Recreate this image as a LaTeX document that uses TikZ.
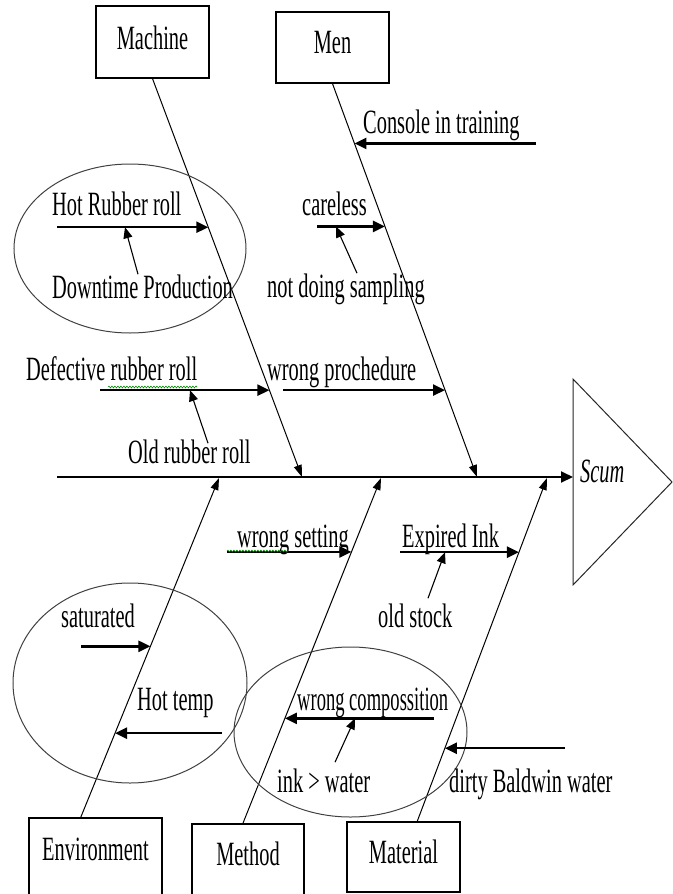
\documentclass[tikz,border=0pt]{standalone}
\usepackage{fontspec}
\newfontfamily\fishfont[FakeStretch=0.6]{Liberation Serif}
\usetikzlibrary{arrows.meta,calc,decorations.pathmorphing}
\begin{document}
\begin{tikzpicture}[x=1pt,y=-1pt,
	txt/.style={font=\fishfont\fontsize{34}{36}\selectfont,inner sep=0pt,anchor=base west},
	catbox/.style={draw,line width=1.3pt,font=\fishfont\fontsize{34}{36}\selectfont,text height=23pt},
	spine/.style={line width=2pt,-{Triangle[length=12pt,width=11pt]}},
	bone/.style={line width=1pt,-{Triangle[length=12pt,width=8pt]}},
	cause/.style={line width=2.4pt,-{Triangle[length=12pt,width=11pt]}},
	sub/.style={line width=1.1pt,-{Triangle[length=11pt,width=9pt]}},
	ring/.style={draw=black!75,line width=1pt},
	squig/.style={draw=green!55!black,line width=0.6pt,decorate,decoration={snake,amplitude=0.9pt,segment length=3pt}}]
	\useasboundingbox (0,0) rectangle (672,894);
	\node[catbox,minimum width=113pt,minimum height=72pt,text depth=9pt] (machine) at (152.5,42) {Machine};
	\node[catbox,minimum width=113pt,minimum height=71pt,text depth=12pt] (men) at (332.5,47.5) {Men};
	\node[catbox,minimum width=133pt,minimum height=78pt,text depth=17pt] (env) at (95.5,857) {Environment};
	\node[catbox,minimum width=112pt,minimum height=72pt,text depth=13pt] (method) at (248,860) {Method};
	\node[catbox,minimum width=113pt,minimum height=70pt,text depth=11pt] (material) at (403.5,857) {Material};
	\coordinate (tail) at (57,477);
	\coordinate (head) at (573,477);
	\coordinate (mtip) at (302,477);
	\coordinate (ntip) at (477,477);
	\coordinate (etip) at (219,478);
	\coordinate (dtip) at (381,478);
	\coordinate (rtip) at (547,478);
	\draw[spine] (tail) -- (head);
	\draw[line width=1pt,draw=black!85] (573,379) -- (672,482) -- (573,585) -- cycle;
	\node[txt,font=\fishfont\itshape\fontsize{34}{36}\selectfont] (scum) at (580,482) {Scum};
	\draw[bone] (machine.south) -- coordinate[pos=.373] (m1) coordinate[pos=.782] (m2) (mtip);
	\draw[bone] (men.south) -- coordinate[pos=.152] (n1) coordinate[pos=.363] (n2) coordinate[pos=.779] (n3) (ntip);
	\draw[bone] ($(env.north west)!0.39!(env.north east)$) -- coordinate[pos=.248] (e1) coordinate[pos=.504] (e2) (etip);
	\draw[bone] ($(method.north west)!0.455!(method.north east)$) -- coordinate[pos=.304] (d1) coordinate[pos=.786] (d2) (dtip);
	\draw[bone] ($(material.north west)!0.62!(material.north east)$) -- coordinate[pos=.213] (r1) coordinate[pos=.784] (r2) (rtip);
	\draw[ring] (130,248.5) ellipse [x radius=116, y radius=84.5];
	\draw[ring] (130,683) ellipse [x radius=117, y radius=100];
	\draw[ring] (350.5,732) ellipse [x radius=116.5, y radius=85];
	\node[txt] (console) at (363,133) {Console in training};
	\node[txt] (hotroll) at (52,215) {Hot Rubber roll};
	\node[txt] (down) at (52,298) {Downtime Production};
	\node[txt] (careless) at (302,215) {careless};
	\node[txt] (sampling) at (267,297) {not doing sampling};
	\node[txt] (defect) at (26,380) {Defective rubber roll};
	\node[txt] (proc) at (267,380) {wrong prochedure};
	\node[txt] (oldroll) at (128,463) {Old rubber roll};
	\node[txt] (setting) at (237,547) {wrong setting};
	\node[txt] (expired) at (402,547) {Expired Ink};
	\node[txt] (stock) at (378,627) {old stock};
	\node[txt] (saturated) at (61,627) {saturated};
	\node[txt] (hottemp) at (137,710) {Hot temp};
	\node[txt,xscale=0.91] (compo) at (297,710) {wrong compossition};
	\node[txt] (inkwater) at (277,792) {ink > water};
	\node[txt] (baldwin) at (449,792) {dirty Baldwin water};
	\draw[cause] (536,0 |- n1) -- (n1);
	\draw[cause] (57,0 |- m1) -- (m1);
	\draw[cause] (317,0 |- n2) -- (n2);
	\draw[cause] (100,0 |- m2) -- (m2);
	\draw[cause] (283,0 |- n3) -- (n3);
	\draw[cause] (81,0 |- e2) -- (e2);
	\draw[cause] (222,0 |- e1) -- (e1);
	\draw[cause] (227,0 |- d2) -- (d2);
	\draw[cause] (434,0 |- d1) -- (d1);
	\draw[cause] (400,0 |- r2) -- (r2);
	\draw[cause] (565,0 |- r1) -- (r1);
	\draw[sub] (138,0 |- down.north) -- (125,0 |- m1);
	\draw[sub] (357,0 |- sampling.north) -- (336,0 |- n2);
	\draw[sub] ($(208,0 |- oldroll.north)+(0,4)$) -- (190,0 |- m2);
	\draw[sub] ($(428,0 |- stock.north)+(0,-5)$) -- (445,0 |- r2);
	\draw[sub] ($(335,0 |- inkwater.north)+(0,-6)$) -- (355,0 |- d1);
	\draw[squig] (108,387) -- (197,387);
	\draw[squig] (227,551) -- (288,551);
\end{tikzpicture}
\end{document}
